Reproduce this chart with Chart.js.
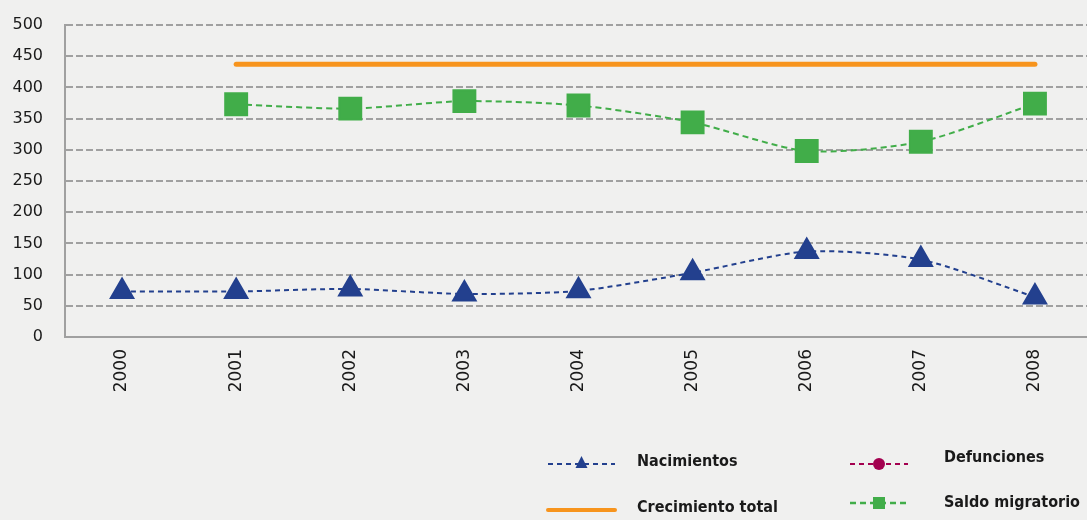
<!DOCTYPE html>
<html><head><meta charset="utf-8">
<script src="https://cdn.jsdelivr.net/npm/chart.js@4/dist/chart.umd.min.js"></script>
<style>
html,body{margin:0;padding:0;background:#f0f0ef;overflow:hidden;}
#wrap{position:relative;width:1092px;height:520px;}
</style></head><body>
<div id="wrap"><canvas id="c" width="1092" height="520"></canvas></div>
<script>
const years = ['2000','2001','2002','2003','2004','2005','2006','2007','2008'];
const nacimientos = [73, 73, 77, 69, 74, 103, 137, 124, 64];
const defunciones = [null, null, null, null, null, null, null, null, null];
const crecimientoTotal = [null, 437, 437, 437, 437, 437, 437, 437, 437];
const saldoMigratorio = [null, 373, 366, 378, 371, 344, 298, 313, 374];
const yTicks = [0, 50, 100, 150, 200, 250, 300, 350, 400, 450, 500];

const legendPlugin = {
  id: 'customLegend',
  afterDraw(chart) {
    const ctx = chart.ctx;
    const ds = chart.data.datasets;
    const items = [
      {d: ds[0], x: 548, y: 464, tx: 637, ty: 462},
      {d: ds[1], x: 850, y: 464, tx: 944, ty: 458},
      {d: ds[2], x: 548, y: 510, tx: 637, ty: 508},
      {d: ds[3], x: 850, y: 503, tx: 944, ty: 503}
    ];
    ctx.save();
    items.forEach(it => {
      const d = it.d;
      const len = it.d.legendLen;
      ctx.strokeStyle = d.borderColor;
      ctx.lineWidth = d.legendLineWidth;
      ctx.lineCap = d.borderCapStyle || 'butt';
      ctx.setLineDash(d.borderDash || []);
      ctx.beginPath();
      ctx.moveTo(it.x, it.y);
      ctx.lineTo(it.x + len, it.y);
      ctx.stroke();
      ctx.setLineDash([]);
      const cx = it.x + len / 2;
      ctx.fillStyle = d.pointBackgroundColor;
      if (d.pointStyle === 'triangle') {
        ctx.beginPath();
        ctx.moveTo(cx, it.y - 8); ctx.lineTo(cx + 6, it.y + 4); ctx.lineTo(cx - 6, it.y + 4);
        ctx.closePath(); ctx.fill();
      } else if (d.pointStyle === 'circle' && d.label === 'Defunciones') {
        ctx.beginPath(); ctx.arc(cx, it.y, 6, 0, Math.PI * 2); ctx.fill();
      } else if (d.pointStyle === 'rect') {
        ctx.fillRect(cx - 6, it.y - 6, 12, 12);
      }
      ctx.fillStyle = '#1a1a1a';
      ctx.font = 'bold 16px "Liberation Sans Narrow", "DejaVu Sans Condensed", sans-serif';
      ctx.textAlign = 'left';
      ctx.textBaseline = 'middle';
      ctx.fillText(d.label, it.tx, it.ty);
    });
    ctx.restore();
  }
};

new Chart(document.getElementById('c'), {
  type: 'line',
  data: {
    labels: years,
    datasets: [
      {label: 'Nacimientos', data: nacimientos, borderColor: '#23408e', backgroundColor: '#23408e',
       pointBackgroundColor: '#23408e', pointBorderColor: '#23408e', pointStyle: 'triangle', pointRadius: 13,
       borderWidth: 2, borderDash: [5, 4], tension: 0.25, legendLen: 67, legendLineWidth: 2},
      {label: 'Defunciones', data: defunciones, borderColor: '#a3004f', backgroundColor: '#a3004f',
       pointBackgroundColor: '#a3004f', pointStyle: 'circle', pointRadius: 6,
       borderWidth: 2, borderDash: [5, 4], legendLen: 58, legendLineWidth: 2},
      {label: 'Crecimiento total', data: crecimientoTotal, borderColor: '#f7941d', backgroundColor: '#f7941d',
       pointBackgroundColor: '#f7941d', pointStyle: 'circle', pointRadius: 0, borderWidth: 5,
       borderCapStyle: 'round', tension: 0.25, legendLen: 67, legendLineWidth: 4},
      {label: 'Saldo migratorio', data: saldoMigratorio, borderColor: '#41ad49', backgroundColor: '#41ad49',
       pointBackgroundColor: '#41ad49', pointBorderColor: '#41ad49', pointStyle: 'rect', pointRadius: 15.5,
       borderWidth: 2, borderDash: [6, 4], tension: 0.25, legendLen: 58, legendLineWidth: 2.5}
    ]
  },
  options: {
    responsive: false,
    animation: false,
    layout: {autoPadding: false, padding: {top: 25, right: 0, left: 0, bottom: 0}},
    plugins: {legend: {display: false}, tooltip: {enabled: false}},
    scales: {
      x: {
        offset: true,
        grid: {display: false, drawTicks: false},
        border: {display: true, color: '#a0a0a0', width: 2},
        ticks: {minRotation: 90, maxRotation: 90, color: '#1a1a1a', padding: 12,
                font: {size: 17, family: '"DejaVu Sans", sans-serif'}},
        afterFit(scale) { scale.height = 183; scale.paddingLeft = 0; scale.paddingRight = 0; }
      },
      y: {
        min: 0, max: 500,
        afterBuildTicks(scale) { scale.ticks = yTicks.map(v => ({value: v})); },
        grid: {color: '#a0a0a0', lineWidth: 2, drawTicks: false},
        border: {display: true, color: '#a0a0a0', width: 2, dash: [7, 3]},
        ticks: {color: '#1a1a1a', padding: 22, font: {size: 16, family: '"DejaVu Sans", sans-serif'}},
        afterFit(scale) { scale.width = 65; scale.paddingTop = 0; scale.paddingBottom = 0; }
      }
    }
  },
  plugins: [legendPlugin]
});
</script>
</body></html>
